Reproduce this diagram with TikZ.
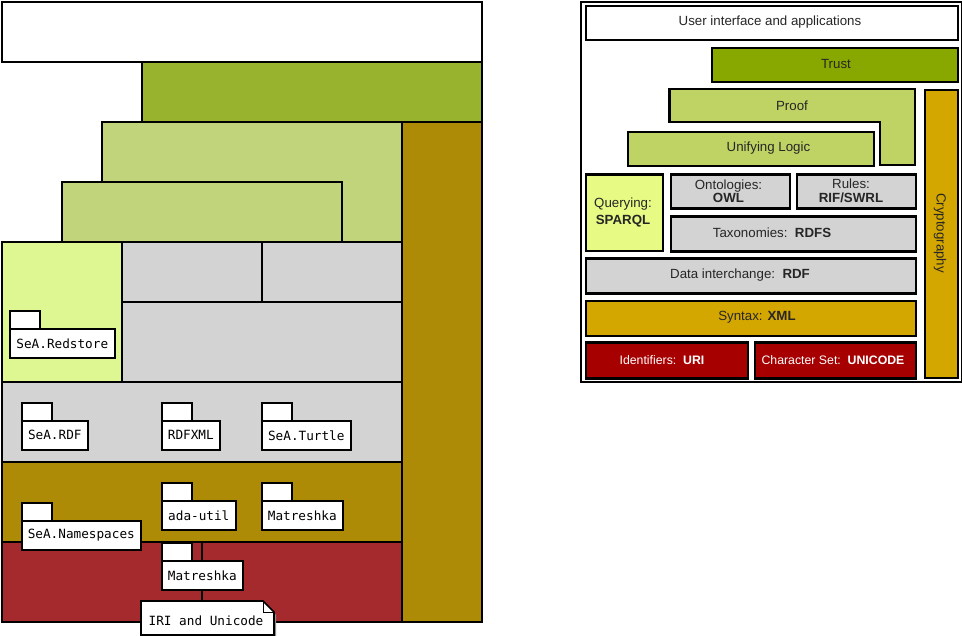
\documentclass[tikz,border=0pt]{standalone}
\usepackage{fontspec}
\setmainfont{Liberation Sans}
\newfontfamily\pkgfont{DejaVu Sans Mono}
\definecolor{ltrust}{HTML}{98B32D}
\definecolor{lproof}{HTML}{C1D47B}
\definecolor{lbrown}{HTML}{AD8B07}
\definecolor{lquery}{HTML}{DFF792}
\definecolor{lgray}{HTML}{D2D3D2}
\definecolor{lred}{HTML}{A52A2D}
\definecolor{rtrust}{HTML}{88A800}
\definecolor{rproof}{HTML}{BED364}
\definecolor{rgold}{HTML}{D4A600}
\definecolor{rquery}{HTML}{E6FA84}
\definecolor{rgray}{HTML}{D3D3D3}
\definecolor{rred}{HTML}{A60000}
\newcommand\rbx[7]{\node[#2, minimum width={#5pt-#3pt}, minimum height={#6pt-#4pt}] (#1) at (#3,#4) {#7};}
\newcommand\pkg[5]{%
  \node[tabbox, minimum width=30pt, minimum height=18pt] (#1t) at (#2,#3) {};
  \fill[black!45] (#2+2,#3+20) rectangle (#4+2,#3+49);
  \node[pkgbox, minimum width={#4pt-#2pt}, minimum height=29pt] (#1) at (#2,#3+18) {#5};}
\begin{document}
\begin{tikzpicture}[x=1pt,y=-1pt,
  lay/.style={draw=black, line width=2pt, inner sep=0pt, anchor=north west},
  rl/.style={draw=black, line width=2.4pt, inner sep=0pt, anchor=north west},
  rtxt/.style={font=\fontsize{13.3}{13.5}\selectfont, text=black!85, align=center, inner sep=0pt},
  rtxtw/.style={font=\fontsize{12.3}{13}\selectfont, text=white, align=center, inner sep=0pt},
  tabbox/.style={draw=black, line width=1.6pt, fill=white, inner sep=0pt, anchor=north west},
  pkgbox/.style={draw=black, line width=1.6pt, fill=white, inner sep=0pt, anchor=north west, font=\pkgfont\fontsize{12.7}{13}\selectfont}]
\useasboundingbox (0,0) rectangle (962,636);
% ---------------- left diagram
\rbx{ui}{lay, fill=white}{1}{1}{481}{61}{}
\rbx{trust}{lay, fill=ltrust}{141}{61}{481}{121}{}
\rbx{crypto}{lay, fill=lbrown}{401}{121}{481}{621}{}
\rbx{proof}{lay, fill=lproof}{101}{121}{401}{241}{}
\rbx{logic}{lay, fill=lproof}{61}{181}{341}{241}{}
\rbx{query}{lay, fill=lquery}{1}{241}{121}{381}{}
\rbx{owl}{lay, fill=lgray}{121}{241}{261}{301}{}
\rbx{rules}{lay, fill=lgray}{261}{241}{401}{301}{}
\rbx{rdfs}{lay, fill=lgray}{121}{301}{401}{381}{}
\rbx{rdf}{lay, fill=lgray}{1}{381}{401}{461}{}
\rbx{xml}{lay, fill=lbrown}{1}{461}{401}{541}{}
\rbx{uri}{lay, fill=lred}{1}{541}{201}{621}{}
\rbx{unicode}{lay, fill=lred}{201}{541}{401}{621}{}
\pkg{redstore}{9}{310}{114}{SeA.Redstore}
\pkg{seardf}{21}{402}{87}{SeA.RDF}
\pkg{rdfxml}{161}{402}{219}{RDFXML}
\pkg{turtle}{261}{402}{350}{SeA.Turtle}
\pkg{adautil}{161}{482}{235}{ada-util}
\pkg{matra}{261}{482}{342}{Matreshka}
\pkg{ns}{21}{502}{140}{SeA.Namespaces}
\pkg{matrb}{161}{542}{242}{Matreshka}
% note
\fill[black!45] (143,603) -- (264,603) -- (276,615) -- (276,638) -- (143,638) -- cycle;
\draw[line width=1.6pt, fill=white, line join=miter] (141,601) -- (263,601) -- (274,612) -- (274,635) -- (141,635) -- cycle;
\draw[line width=1pt] (263,601) -- (263,612) -- (274,612);
\node[font=\pkgfont\fontsize{12.7}{13}\selectfont, inner sep=0pt] (iri) at (206,621) {IRI and Unicode};
% ---------------- right diagram
\rbx{frame}{draw=black, line width=1.8pt, inner sep=0pt, anchor=north west, fill=white}{580}{1}{961}{381}{}
\rbx{rui}{rl, fill=white}{584.5}{5}{957}{39}{}
\node[rtxt] at (770,22) {User interface and applications};
\rbx{rtr}{rl, fill=rtrust}{711}{47}{957}{81}{}
\node[rtxt] at (836,64) {Trust};
\draw[line width=2.4pt, fill=rproof] (669.5,89) -- (915,89) -- (915,165) -- (880,165) -- (880,122) -- (669.5,122) -- cycle;
\node[rtxt] (rproofl) at (792,105.5) {Proof};
\rbx{rlogic}{rl, fill=rproof}{627}{131}{873}{165}{}
\node[rtxt] at (768.5,148) {Unifying Logic};
\rbx{rcrypto}{rl, fill=rgold}{923.5}{89}{957}{377}{}
\node[rtxt, rotate=-90] at (940,233) {Cryptography};
\rbx{rquery}{rl, fill=rquery}{584.5}{173.5}{661.5}{250}{}
\node[rtxt, font=\fontsize{13.3}{17}\selectfont] at (623,212) {Querying:\\\textbf{SPARQL}};
\rbx{rowl}{rl, fill=rgray}{669.5}{173.5}{788.5}{207.5}{}
\node[rtxt] at (728.5,191) {Ontologies:\\\textbf{OWL}};
\rbx{rrules}{rl, fill=rgray}{795.5}{173.5}{915}{207.5}{}
\node[rtxt] at (851,191) {Rules:\\\textbf{RIF/SWRL}};
\rbx{rrdfs}{rl, fill=rgray}{669.5}{215.5}{915}{250.5}{}
\node[rtxt] at (772,233) {Taxonomies:\ \ \textbf{RDFS}};
\rbx{rrdf}{rl, fill=rgray}{584.5}{257.5}{915}{292.5}{}
\node[rtxt] at (740,275) {Data interchange:\ \ \textbf{RDF}};
\rbx{rxml}{rl, fill=rgold}{584.5}{300}{915}{335}{}
\node[rtxt] at (757,317.5) {Syntax: \textbf{XML}};
\rbx{ruri}{rl, fill=rred}{584.5}{341.5}{746.5}{377.5}{}
\node[rtxtw] at (662,360) {Identifiers:\ \ \textbf{URI}};
\rbx{runi}{rl, fill=rred}{753.5}{341.5}{915}{377.5}{}
\node[rtxtw] at (833,360) {Character Set:\ \ \textbf{UNICODE}};
\end{tikzpicture}
\end{document}
